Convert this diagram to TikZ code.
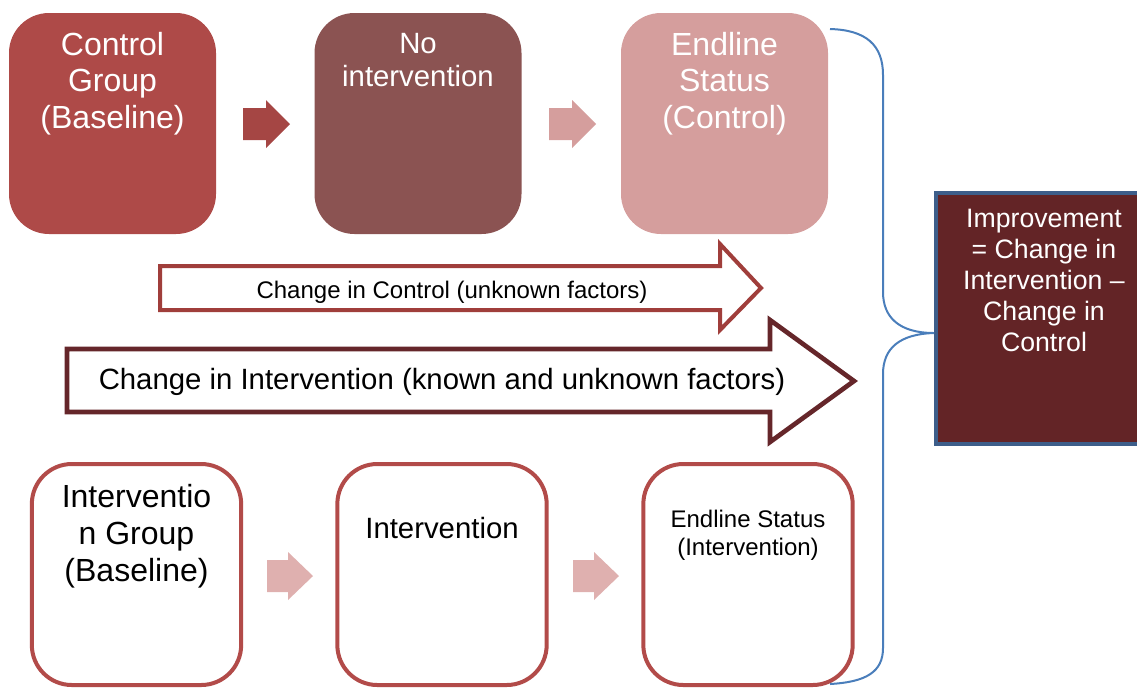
\documentclass[tikz,border=0pt]{standalone}
\usepackage{fontspec}
\setmainfont{Liberation Sans}
\usetikzlibrary{positioning}

\definecolor{ctrlred}{RGB}{174,74,72}
\definecolor{ctrlbrown}{RGB}{139,83,82}
\definecolor{ctrlpink}{RGB}{213,158,157}
\definecolor{intred}{RGB}{178,75,73}
\definecolor{intpink}{RGB}{223,176,175}
\definecolor{arrred}{RGB}{160,62,59}
\definecolor{arrdark}{RGB}{101,38,42}
\definecolor{impfill}{RGB}{99,36,38}
\definecolor{impblue}{RGB}{61,94,138}
\definecolor{braceblue}{RGB}{74,126,187}

\tikzset{every picture/.style={line width=0.75pt}}
\tikzset{
  topbox/.style={rounded corners=30pt, minimum width=155.25pt, minimum height=165.75pt, inner sep=0pt},
  botbox/.style={draw=intred, fill=white, line width=3pt, rounded corners=30pt, minimum width=157pt, minimum height=165.75pt, inner sep=0pt},
  txt/.style={inner sep=0pt, align=center},
  bigtxt/.style={txt, font=\fontsize{24}{27.6}\selectfont},
  midtxt/.style={txt, font=\fontsize{22}{25}\selectfont},
  smalltxt/.style={txt, font=\fontsize{18}{21}\selectfont},
  brace/.style={draw=braceblue, line width=1.5pt}
}

\begin{document}
\begin{tikzpicture}[x=0.75pt,y=0.75pt,yscale=-1,xscale=1]
	\useasboundingbox (0,0) rectangle (1137,687);
	\clip (0,0) rectangle (1137,687);
	
	% Control row
	\node[topbox, fill=ctrlred] (cg) at (112.5,123.5) {};
	\node[topbox, fill=ctrlbrown] (ni) at (418,123.5) {};
	\node[topbox, fill=ctrlpink] (ec) at (724.5,123.5) {};
	\node[bigtxt, text=white, anchor=north, below=14.25pt of cg.north] (cgt) {Control\\Group\\(Baseline)};
	\node[midtxt, text=white, anchor=north, below=15pt of ni.north] (nit) {No\\intervention};
	\node[bigtxt, text=white, anchor=north, below=14.25pt of ec.north] (ect) {Endline\\Status\\(Control)};
	
	%Block arrows (control)
	\fill[ctrlred!95!black] (243,108) -- (266,108) -- (266,100) -- (290,124) -- (266,148) -- (266,140) -- (243,140) -- cycle;
	\fill[ctrlpink] (549,108) -- (572,108) -- (572,100) -- (596,124) -- (572,148) -- (572,140) -- (549,140) -- cycle;
	
	% Intervention row
	\node[botbox] (ig) at (136.5,574.5) {};
	\node[botbox] (iv) at (442,574.5) {};
	\node[botbox] (ei) at (748,574.5) {};
	\node[bigtxt, anchor=north, below=16.5pt of ig.north] (igt) {Interventio\\n Group\\(Baseline)};
	\node[midtxt, anchor=north, below=41pt of iv.north] (ivt) {Intervention};
	\node[smalltxt, anchor=north, below=36pt of ei.north] (eit) {Endline Status\\(Intervention)};
	
	%Block arrows (intervention)
	\fill[intpink] (267,560) -- (288,560) -- (288,552) -- (313,576) -- (288,600) -- (288,592) -- (267,592) -- cycle;
	\fill[intpink] (573,560) -- (594,560) -- (594,552) -- (619,576) -- (594,600) -- (594,592) -- (573,592) -- cycle;
	
	%Change arrows
	\draw[draw=arrred, line width=3pt, fill=white] (160,266) -- (720,266) -- (720,244) -- (761,288) -- (720,330) -- (720,310) -- (160,310) -- cycle;
	\node[smalltxt] (cct) at (452,292) {Change in Control (unknown factors)};
	\draw[draw=arrdark, line width=3.5pt, fill=white] (67,349) -- (770,349) -- (770,320) -- (854,381) -- (770,442) -- (770,412) -- (67,412) -- cycle;
	\node[txt, font=\fontsize{22}{25}\selectfont] (cit) at (442,382) {Change in Intervention (known and unknown factors)};
	
	% Result box
	\node[draw=impblue, fill=impfill, line width=3pt, minimum width=157.5pt, minimum height=188.25pt, inner sep=0pt] (ib) at (1041,318.5) {};
	\node[txt, text=white, font=\fontsize{20}{23.2}\selectfont, anchor=north, below=13.5pt of ib.north, xshift=2.25pt] (ibt) {Improvement\\= Change in\\Intervention --\\Change in\\Control};
	
	%Brace
	\coordinate (tip) at (934,333);
	\draw[brace] (830,29) .. controls (866,30) and (883,45) .. (883,75) -- (883,292) .. controls (883,318) and (900,333) .. (tip) .. controls (900,334) and (883,348) .. (883,374) -- (883,648) .. controls (883,672) and (866,682) .. (830,684);
	
\end{tikzpicture}
\end{document}
